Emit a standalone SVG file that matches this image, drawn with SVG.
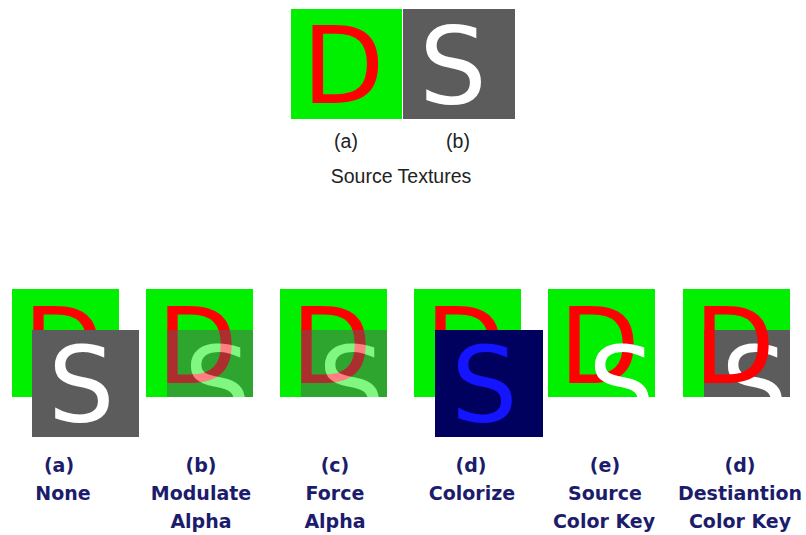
<svg xmlns="http://www.w3.org/2000/svg" width="806" height="535" viewBox="0 0 806 535">
<style>
.grn{fill:#00f000}
.gry{fill:#5c5c5c}
.L{font-family:"DejaVu Sans",sans-serif;font-size:105px}
.T{font-size:107px}
.D{fill:#ff0000}
.S{fill:#ffffff}
.cap{font-family:"Liberation Sans",Arial,sans-serif;font-size:19.5px;fill:#222222;text-anchor:middle}
.lbl{font-family:"DejaVu Sans",Verdana,sans-serif;font-weight:bold;font-size:19px;fill:#1c1c6c;text-anchor:middle}
</style>
<defs>
<clipPath id="cb" clipPathUnits="userSpaceOnUse"><rect x="146" y="289" width="107" height="108"/></clipPath>
<clipPath id="cc" clipPathUnits="userSpaceOnUse"><rect x="280" y="289" width="107" height="108"/></clipPath>
<clipPath id="ce" clipPathUnits="userSpaceOnUse"><rect x="548" y="289" width="107" height="108"/></clipPath>
<clipPath id="cf" clipPathUnits="userSpaceOnUse"><rect x="683" y="289" width="107" height="108"/></clipPath>
</defs>
<rect width="806" height="535" fill="#ffffff"/>

<g id="src-a">
<rect class="grn" x="291" y="9" width="111" height="110"/>
<text class="L T D" x="302" y="103">D</text>
<text class="cap" x="346" y="148">(a)</text>
</g>
<g id="src-b">
<rect class="gry" x="403" y="9" width="112" height="110"/>
<text class="L T S" x="419" y="103">S</text>
<text class="cap" x="458" y="148">(b)</text>
</g>
<text class="cap" x="401" y="183">Source Textures</text>

<g id="none">
<rect class="grn" x="12" y="289" width="107" height="108"/>
<text class="L D" x="23" y="383">D</text>
<rect class="gry" x="32" y="330" width="107" height="107"/>
<text class="L S" x="48" y="422">S</text>
<text class="lbl" x="59" y="472">(a)</text>
<text class="lbl" x="63" y="500">None</text>
</g>

<g id="modulate">
<rect class="grn" x="146" y="289" width="107" height="108"/>
<text class="L D" x="157" y="383">D</text>
<g clip-path="url(#cb)" opacity="0.5">
<rect class="gry" x="167" y="330" width="107" height="107"/>
<text class="L S" x="184" y="422">S</text>
</g>
<text class="lbl" x="201" y="472">(b)</text>
<text class="lbl" x="201" y="500">Modulate</text>
<text class="lbl" x="201" y="528">Alpha</text>
</g>

<g id="force">
<rect class="grn" x="280" y="289" width="107" height="108"/>
<text class="L D" x="291" y="383">D</text>
<g clip-path="url(#cc)" opacity="0.5">
<rect class="gry" x="301" y="330" width="107" height="107"/>
<text class="L S" x="318" y="422">S</text>
</g>
<text class="lbl" x="335" y="472">(c)</text>
<text class="lbl" x="335" y="500">Force</text>
<text class="lbl" x="335" y="528">Alpha</text>
</g>

<g id="colorize">
<rect class="grn" x="414" y="289" width="107" height="108"/>
<text class="L D" x="425" y="383">D</text>
<rect x="435" y="330" width="108" height="107" fill="#00005e"/>
<text class="L" x="451" y="422" fill="#1414ff">S</text>
<text class="lbl" x="471" y="472">(d)</text>
<text class="lbl" x="472" y="500">Colorize</text>
</g>

<g id="src-key">
<rect class="grn" x="548" y="289" width="107" height="108"/>
<text class="L D" x="559" y="383">D</text>
<g clip-path="url(#ce)">
<text class="L S" x="588" y="422">S</text>
</g>
<text class="lbl" x="605" y="472">(e)</text>
<text class="lbl" x="605" y="500">Source</text>
<text class="lbl" x="604" y="528">Color Key</text>
</g>

<g id="dst-key">
<rect class="grn" x="683" y="289" width="107" height="108"/>
<g clip-path="url(#cf)">
<rect class="gry" x="704" y="330" width="107" height="107"/>
<text class="L S" x="721" y="422">S</text>
</g>
<text class="L D" x="694" y="383">D</text>
<text class="lbl" x="740" y="472">(d)</text>
<text class="lbl" x="740" y="500">Destiantion</text>
<text class="lbl" x="740" y="528">Color Key</text>
</g>
</svg>
